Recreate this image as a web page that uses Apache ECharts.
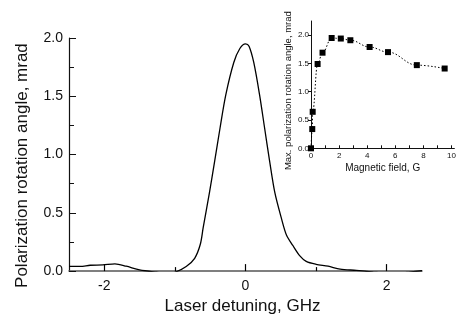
<!DOCTYPE html>
<html><head><meta charset="utf-8">
<script src="https://cdn.jsdelivr.net/npm/echarts@6/dist/echarts.min.js"></script>
<style>html,body{margin:0;padding:0;background:#fff}#c{width:459px;height:320px}</style>
</head><body><div id="c"></div>
<script>
// Main chart: polarization rotation vs laser detuning
const detuning = [-2.5,-2.34,-2.2,-2.02,-1.85,-1.69,-1.5,-1.26,-1.1,-1.0,-0.84,-0.72,-0.64,-0.6,-0.51,-0.435,-0.36,-0.28,-0.166,-0.08,0,0.05,0.117,0.2,0.27,0.34,0.415,0.51,0.58,0.67,0.77,0.86,1.0,1.17,1.34,1.57,1.81,2.0,2.19,2.33,2.5];
const rotation = [0.04,0.04,0.05,0.053,0.062,0.042,0.01,-0.01,-0.02,-0.01,0.04,0.11,0.23,0.37,0.675,0.95,1.23,1.51,1.79,1.91,1.95,1.93,1.79,1.51,1.23,0.95,0.675,0.45,0.31,0.22,0.13,0.083,0.058,0.042,0.017,0.006,-0.008,-0.017,-0.017,-0.008,0.003];
const mainXLabels = [-2, 0, 2];
const mainXMinor = [-1, 1];
// Inset: max rotation vs magnetic field
const field = [0, 0.09, 0.12, 0.47, 0.82, 1.47, 2.12, 2.8, 4.17, 5.48, 7.53, 9.51];
const maxAngle = [0, 0.34, 0.645, 1.49, 1.69, 1.95, 1.94, 1.91, 1.79, 1.70, 1.47, 1.41];
const insetXLabels = [0, 2, 4, 6, 8, 10];
const insetXTicks = [0,1,2,3,4,5,6,7,8,9,10];
const insetYLabels = [0, 0.5, 1.0, 1.5, 2.0];

const FONT = 'Liberation Sans, Arial, sans-serif';
const chart = echarts.init(document.getElementById('c'), null, {renderer: 'canvas'});
chart.setOption({
  animation: false,
  textStyle: {fontFamily: FONT},
  grid: [
    {left: 69, top: 38, width: 353, height: 240},
    {left: 311, top: 21, width: 146, height: 127.3}
  ],
  xAxis: [
    {gridIndex: 0, type: 'value', min: -2.5, max: 2.5,
     name: 'Laser detuning, GHz', nameLocation: 'middle', nameGap: 25,
     nameTextStyle: {fontSize: 17, color: '#111', fontFamily: FONT, padding: [0, 6, 0, 0]},
     axisLine: {onZero: false, lineStyle: {color: '#555', width: 1.5}},
     axisTick: {show: true, inside: true, length: 7, customValues: mainXLabels, lineStyle: {color: '#000', width: 1.2}},
     axisLabel: {customValues: mainXLabels, fontSize: 14, color: '#111', margin: 8, fontFamily: FONT},
     splitLine: {show: false}},
    {gridIndex: 0, type: 'value', min: -2.5, max: 2.5,
     axisLine: {show: false, onZero: false},
     axisTick: {show: true, inside: true, length: 4, customValues: mainXMinor, lineStyle: {color: '#000', width: 1.2}},
     axisLabel: {show: false}, splitLine: {show: false}, position: 'bottom'},
    {gridIndex: 1, type: 'value', min: 0, max: 10.2,
     name: 'Magnetic field, G', nameLocation: 'middle', nameGap: 15,
     nameTextStyle: {fontSize: 10, color: '#111', fontFamily: FONT},
     axisLine: {onZero: false, lineStyle: {color: '#111', width: 1}},
     axisTick: {show: true, inside: true, length: 3, customValues: insetXTicks, lineStyle: {color: '#111'}},
     axisLabel: {customValues: insetXLabels, fontSize: 8, color: '#111', margin: 3, fontFamily: FONT},
     splitLine: {show: false}}
  ],
  yAxis: [
    {gridIndex: 0, type: 'value', min: 0, max: 2, interval: 0.5,
     name: 'Polarization rotation angle, mrad', nameLocation: 'middle', nameGap: 38,
     nameTextStyle: {fontSize: 17, color: '#111', fontFamily: FONT, padding: [0, 22, 0, 0]},
     axisLine: {onZero: false, lineStyle: {color: '#111', width: 1.2}},
     axisTick: {inside: true, length: 7, lineStyle: {color: '#111'}},
     minorTick: {show: true, splitNumber: 2, length: 5, lineStyle: {color: '#111'}},
     axisLabel: {fontSize: 14, color: '#111', margin: 6, fontFamily: FONT,
                 formatter: v => v.toFixed(1)},
     splitLine: {show: false}, minorSplitLine: {show: false}},
    {gridIndex: 1, type: 'value', min: 0, max: 2.25,
     name: 'Max. polarization rotation angle, mrad', nameLocation: 'middle', nameGap: 18,
     nameTextStyle: {fontSize: 9.5, color: '#111', fontFamily: FONT, padding: [0, 12, 0, 0]},
     axisLine: {onZero: false, lineStyle: {color: '#111', width: 1}},
     axisTick: {length: 3, customValues: insetYLabels, lineStyle: {color: '#111'}},
     axisLabel: {customValues: insetYLabels, fontSize: 8, color: '#111', margin: 2, fontFamily: FONT,
                 formatter: v => v.toFixed(1)},
     splitLine: {show: false}}
  ],
  series: [
    {type: 'line', xAxisIndex: 0, yAxisIndex: 0,
     data: detuning.map((x, i) => [x, rotation[i]]),
     smooth: 0.3, showSymbol: false, symbol: 'none',
     lineStyle: {color: '#000', width: 1.3}},
    {type: 'line', xAxisIndex: 2, yAxisIndex: 1,
     data: field.map((x, i) => [x, maxAngle[i]]),
     smooth: 0.4, smoothMonotone: 'x',
     symbol: 'rect', symbolSize: 6, showSymbol: true,
     itemStyle: {color: '#000'},
     lineStyle: {color: '#000', width: 1, type: [1.5, 2]}}
  ]
});
</script></body></html>
